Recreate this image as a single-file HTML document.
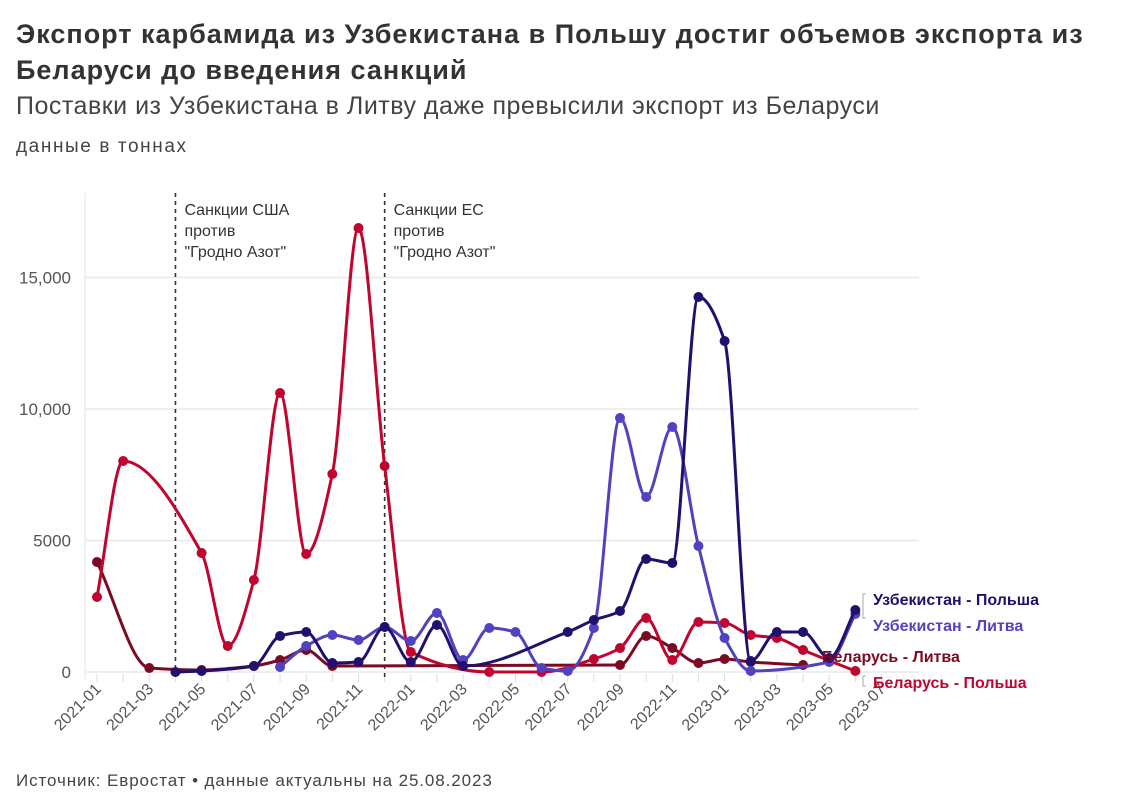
<!DOCTYPE html>
<html><head><meta charset="utf-8"><style>
body{margin:0;background:#fff;width:1123px;height:810px;overflow:hidden;font-family:"Liberation Sans","DejaVu Sans",sans-serif;}
.t{position:absolute;left:16px;color:#333;white-space:nowrap;}
</style></head><body>
<div class="t" style="top:16px;font-size:27px;font-weight:bold;line-height:36px;color:#333;letter-spacing:1.0px">Экспорт карбамида из Узбекистана в Польшу достиг объемов экспорта из<br>Беларуси до введения санкций</div>
<div class="t" style="top:92px;font-size:25px;color:#444;letter-spacing:0.5px">Поставки из Узбекистана в Литву даже превысили экспорт из Беларуси</div>
<div class="t" style="top:136px;font-size:19px;color:#444;letter-spacing:1.6px">данные в тоннах</div>
<div class="t" style="top:771px;font-size:17px;color:#444;letter-spacing:0.9px">Источник: Евростат • данные актуальны на 25.08.2023</div>
<svg id="s" width="1123" height="810" style="position:absolute;left:0;top:0" font-family="Liberation Sans, DejaVu Sans, sans-serif"></svg>
<script>
const s=document.getElementById('s');let h='';
const X=m=>97+26.15*m, Y=v=>672-v*0.0263;
[0,5000,10000,15000].forEach((v,i)=>{const y=Y(v);h+=`<line x1="85" x2="919" y1="${y}" y2="${y}" stroke="#e8e8e8" stroke-width="1.5"/>`;
h+=`<text x="71" y="${y+6}" text-anchor="end" font-size="17" fill="#555">${['0','5000','10,000','15,000'][i]}</text>`;});
h+=`<line x1="85" x2="85" y1="193" y2="680" stroke="#eee" stroke-width="1.5"/>`;
for(let m=0;m<=30;m++){h+=`<line x1="${X(m)}" x2="${X(m)}" y1="674" y2="682" stroke="#ddd"/>`;
 if(m%2==0){const yr=2021+Math.floor(m/12),mo=String(m%12+1).padStart(2,'0');
 h+=`<text transform="translate(${X(m)+5},690) rotate(-45)" text-anchor="end" font-size="16" fill="#555">${yr}-${mo}</text>`;}}
[[3,'Санкции США'],[11,'Санкции ЕС']].forEach(([m,t])=>{const x=X(m);
h+=`<line x1="${x}" x2="${x}" y1="193" y2="680" stroke="#333" stroke-width="1.6" stroke-dasharray="4,4"/>`;
[t,'против','"Гродно Азот"'].forEach((l,i)=>h+=`<text x="${x+9}" y="${215+i*21}" font-size="16" fill="#333">${l}</text>`);});
function path(p){const n=p.length;const d=[],t=[];
for(let i=0;i<n-1;i++)d.push((p[i+1][1]-p[i][1])/(p[i+1][0]-p[i][0]));
for(let i=0;i<n;i++){if(i==0)t.push(d[0]);else if(i==n-1)t.push(d[n-2]);else{const a=d[i-1],b=d[i];t.push(a*b<=0?0:2/(1/a+1/b));}}
let r=`M${p[0][0]},${p[0][1]}`;for(let i=0;i<n-1;i++){const dx=(p[i+1][0]-p[i][0])/3;
r+=` C${p[i][0]+dx},${p[i][1]+t[i]*dx} ${p[i+1][0]-dx},${p[i+1][1]-t[i+1]*dx} ${p[i+1][0]},${p[i+1][1]}`;}return r;}
const S=[
['#7b0b22',[[0,562],[2,668],[4,670],[6,666],[7,660],[8,650],[9,666],[20,665],[21,636],[22,648],[23,663],[24,659],[25,662],[27,665]]],
['#c0062f',[[0,597],[1,461],[4,553],[5,646],[6,580],[7,393],[8,554],[9,474],[10,228],[11,466],[12,652],[15,672],[17,672],[19,659],[20,648],[21,618],[22,660],[23,622],[24,623],[25,635],[26,638],[27,650],[29,671]]],
['#5143c0',[[7,667],[8,646],[9,635],[10,640],[11,627],[12,641],[13,613],[14,660],[15,628],[16,632],[17,668],[18,671],[19,628],[20,418],[21,497],[22,427],[23,546],[24,638],[25,671],[28,662],[29,614]]],
['#22106e',[[3,672],[4,671],[6,666],[7,636],[8,632],[9,663],[10,662],[11,627],[12,662],[13,625],[14,666],[18,632],[19,620],[20,611],[21,559],[22,563],[23,297],[24,341],[25,661],[26,632],[27,632],[28,658],[29,610]]]];
S.forEach(([c,pts])=>{const p=pts.map(([m,y])=>[X(m),y]);
h+=`<path d="${path(p)}" fill="none" stroke="${c}" stroke-width="3"/>`;
p.forEach(q=>h+=`<circle cx="${q[0]}" cy="${q[1]}" r="5" fill="${c}"/>`);});
h+=`<path d="M866,594 h-3 v24 h3 M866,676 h-3 v10 h3" fill="none" stroke="#aaa"/>`;
[['Узбекистан - Польша',873,605,'#22106e'],['Узбекистан - Литва',873,631,'#5143c0'],['Беларусь - Литва',822,662,'#7b0b22'],['Беларусь - Польша',873,688,'#c0062f']].forEach(([t,x,y,c])=>h+=`<text x="${x}" y="${y}" font-size="16" font-weight="bold" fill="${c}">${t}</text>`);
s.innerHTML=h;
</script>
</body></html>
